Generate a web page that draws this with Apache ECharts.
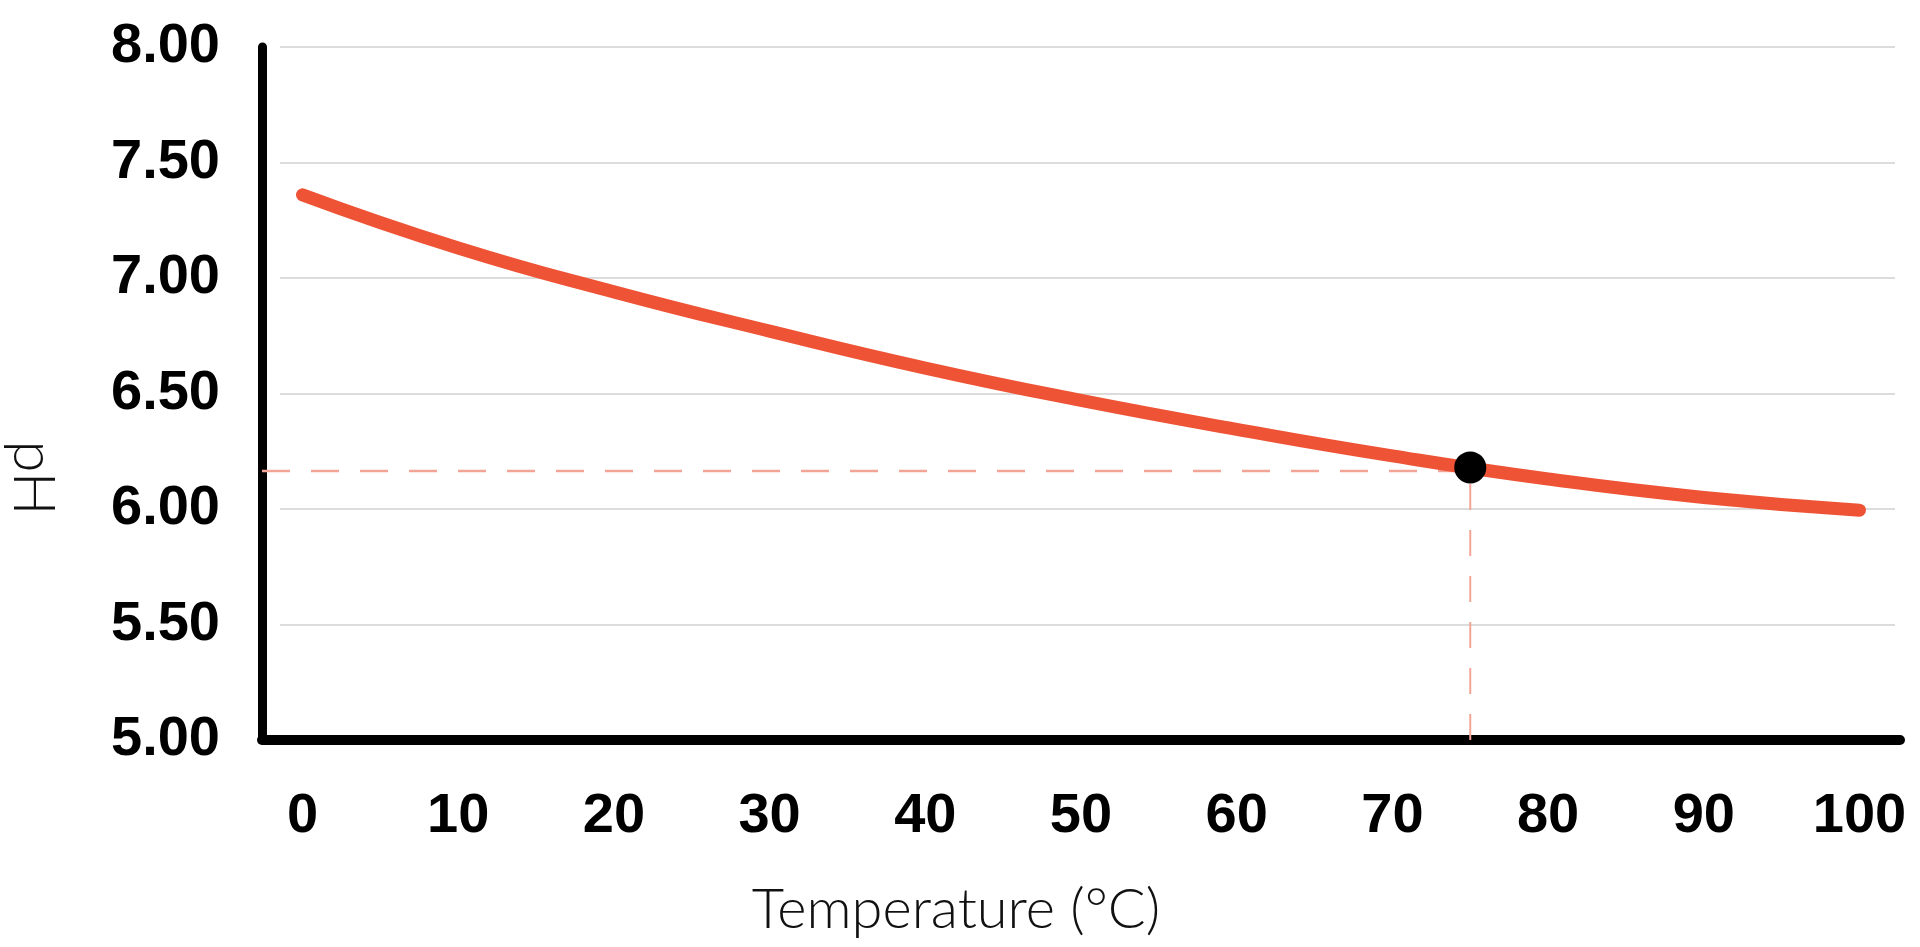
<!DOCTYPE html>
<html>
<head>
<meta charset="utf-8">
<script src="https://cdn.jsdelivr.net/npm/echarts@6/dist/echarts.min.js"></script>
<style>
html,body{margin:0;padding:0;background:#fff;}
#chart{width:1920px;height:947px;}
</style>
</head>
<body>
<div id="chart"></div>
<script>
// Temperature (°C) and pH readings
const temperatures = [0,10,20,30,40,50,60,70,80,90,100];
const phValues = [7.36,7.13,6.94,6.77,6.61,6.47,6.345,6.23,6.13,6.05,5.995];
const xTickLabels = [0,10,20,30,40,50,60,70,80,90,100];
const yTickLabels = [5.0,5.5,6.0,6.5,7.0,7.5,8.0];
const highlightTemp = [75];
const highlightPH = [6.18];
const guidePH = [6.165];
const xAxisName = ['Temperature (°C)'];
const yAxisName = ['pH'];

const X_MIN = -2.6, X_MAX = 102.6, Y_MIN = 5, Y_MAX = 8;

const curve = temperatures.map((t, i) => [t, phValues[i]]);
const dot = highlightTemp.map((t, i) => [t, highlightPH[i]]);
const guideH = [[X_MIN, guidePH[0]], [highlightTemp[0], guidePH[0]]];
const guideV = [[highlightTemp[0], Y_MIN], [highlightTemp[0], guidePH[0]]];

const boldFont = '"Liberation Sans", Arial, sans-serif';
const lightFont = 'Lato, "Noto Sans", sans-serif';

const chart = echarts.init(document.getElementById('chart'));
chart.setOption({
  animation: false,
  backgroundColor: '#ffffff',
  grid: [
    {left: 262, right: 20, top: 47, bottom: 207, containLabel: false},
    {left: 280, right: 25, top: 47, bottom: 207, containLabel: false}
  ],
  xAxis: [
    {
      type: 'value', gridIndex: 0, min: X_MIN, max: X_MAX,
      axisLine: {show: true, onZero: false, lineStyle: {color: '#000', width: 10, cap: 'round'}},
      axisTick: {show: false},
      splitLine: {show: false},
      axisLabel: {
        show: true, customValues: xTickLabels, margin: 49,
        color: '#000', fontFamily: boldFont, fontWeight: 'bold', fontSize: 56,
        formatter: v => String(v)
      }
    },
    {type: 'value', gridIndex: 1, min: 0, max: 100, show: false}
  ],
  yAxis: [
    {
      type: 'value', gridIndex: 0, min: Y_MIN, max: Y_MAX, interval: 0.5,
      axisLine: {show: true, onZero: false, lineStyle: {color: '#000', width: 9, cap: 'round'}},
      axisTick: {show: false},
      splitLine: {show: false},
      axisLabel: {
        show: true, margin: 42, color: '#000',
        fontFamily: boldFont, fontWeight: 'bold', fontSize: 56,
        formatter: v => v.toFixed(2)
      }
    },
    {
      type: 'value', gridIndex: 1, min: Y_MIN, max: Y_MAX, interval: 0.5,
      axisLine: {show: false}, axisTick: {show: false}, axisLabel: {show: false},
      splitLine: {show: true, lineStyle: {color: '#dcdcdc', width: 2}}
    }
  ],
  graphic: [
    {
      type: 'text', x: 956, y: 910,
      style: {text: xAxisName[0], font: '300 56px ' + lightFont, fill: '#111',
        align: 'center', verticalAlign: 'middle', textAlign: 'center', textVerticalAlign: 'middle'}
    },
    {
      type: 'text', x: 33, y: 478, rotation: -Math.PI / 2,
      style: {text: yAxisName[0], font: '300 58px ' + lightFont, fill: '#111',
        align: 'center', verticalAlign: 'middle', textAlign: 'center', textVerticalAlign: 'middle'}
    }
  ],
  series: [
    {
      type: 'line', xAxisIndex: 0, yAxisIndex: 0, data: guideH, showSymbol: false, z: 2,
      lineStyle: {color: '#f2a597', width: 2.5, type: [28, 21]}, silent: true
    },
    {
      type: 'line', xAxisIndex: 0, yAxisIndex: 0, data: guideV, showSymbol: false, z: 2,
      lineStyle: {color: '#f2a597', width: 2, type: [26, 20]}, silent: true
    },
    {
      type: 'line', xAxisIndex: 0, yAxisIndex: 0, data: curve, smooth: 0.5, showSymbol: false, z: 3,
      lineStyle: {color: '#ee5335', width: 13, cap: 'round'}
    },
    {
      type: 'scatter', xAxisIndex: 0, yAxisIndex: 0, data: dot, symbolSize: 32, z: 4,
      itemStyle: {color: '#000', opacity: 1}
    }
  ]
});
</script>
</body>
</html>
